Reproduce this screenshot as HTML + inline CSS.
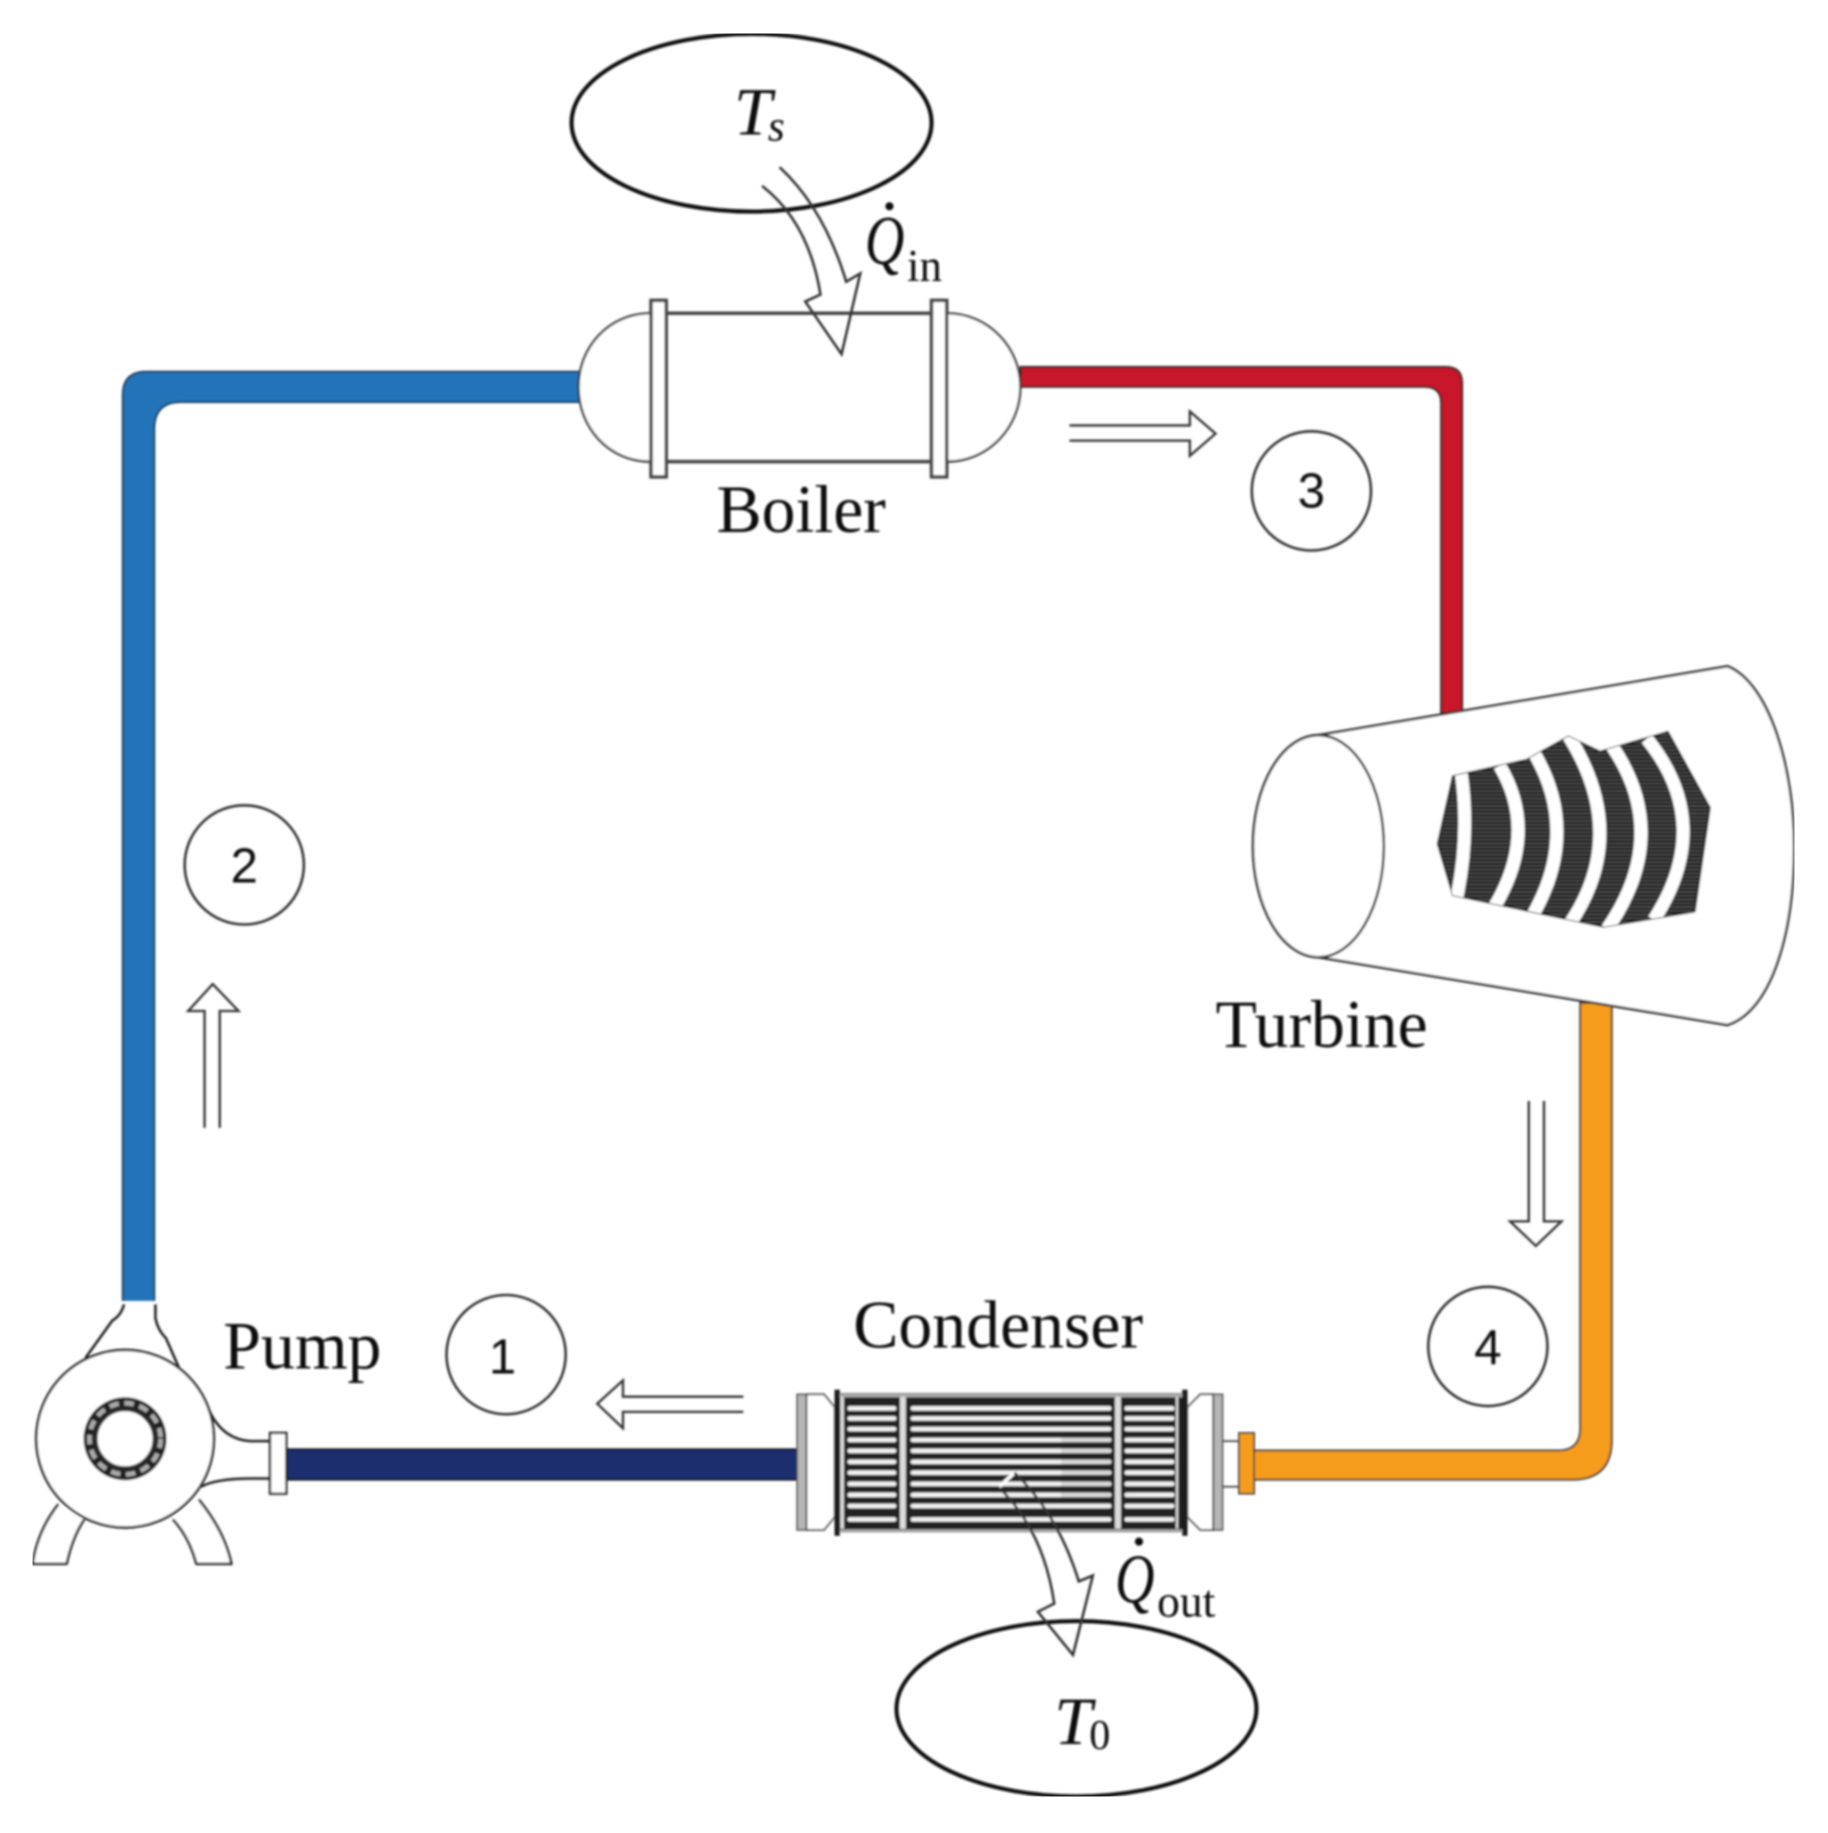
<!DOCTYPE html>
<html><head><meta charset="utf-8"><style>
html,body{margin:0;padding:0;background:#fff}
svg{display:block}
text{fill:#111}
.s{font-family:"Liberation Serif",serif}
.a{font-family:"Liberation Sans",sans-serif}
</style></head><body>
<svg width="1828" height="1833" viewBox="0 0 1564 1568.3" xmlns="http://www.w3.org/2000/svg">
<defs>
<pattern id="h" width="6" height="3.2" patternUnits="userSpaceOnUse"><rect width="6" height="3.2" fill="#161616"/><rect y="1.2" width="6" height="0.9" fill="#666"/></pattern>
<clipPath id="bc"><polygon points="1243,664 1306,650 1342,630 1369,643 1427,626 1463,691 1450,780 1372,793 1243,766 1230,722"/></clipPath>
<filter id="b" x="0" y="0" width="100%" height="100%"><feGaussianBlur stdDeviation="0.8"/></filter>
</defs>
<g filter="url(#b)">
<!-- pipes -->
<path d="M497,318 H125 Q105,318 105,338 V1113 H132 V367 Q132,344 155,344 H497 Z" fill="#2173b8"/>
<path d="M497,318 H125 Q105,318 105,338 V1113 M132,1113 V367 Q132,344 155,344 H497" fill="none" stroke="#1d3d5e" stroke-width="1.6"/>
<path d="M873,314 H1237 Q1251,314 1251,328 V610 H1233 V345 Q1233,331 1219,331 H873 Z" fill="#c8192a" stroke="#222" stroke-width="1.6"/>
<path d="M1352,858 V1222 Q1352,1241 1333,1241 H1072 V1266 H1345 Q1379,1266 1379,1232 V858 Z" fill="#f59c1a" stroke="#3a3a3a" stroke-width="1.6"/>
<rect x="245" y="1240" width="438" height="26" fill="#1f2f6e" stroke="#111" stroke-width="1.5"/>
<rect x="1060" y="1226" width="13" height="52" fill="#f59c1a" stroke="#444" stroke-width="1.5"/>
<!-- Ts -->
<ellipse cx="643" cy="105" rx="154" ry="76" fill="none" stroke="#111" stroke-width="3.5"/>
<!-- Boiler -->
<path d="M557,268 C520,268 495,298 495,331 C495,365 520,395 557,395 M810,268 C846,268 873,298 873,331 C873,365 846,395 810,395" fill="#fff" stroke="#333" stroke-width="2"/>
<path d="M570,268 H797 M570,395 H797" stroke="#444" stroke-width="3" fill="none"/>
<rect x="557" y="257" width="13" height="151" fill="#fff" stroke="#444" stroke-width="3"/>
<rect x="797" y="257" width="13" height="151" fill="#fff" stroke="#444" stroke-width="3"/>
<!-- Qin arrow -->
<path d="M652,159 Q692,190 702,252 L689,258 L720,303 L736,234 L724,241 Q705,178 667,143" fill="none" stroke="#333" stroke-width="2.2"/>
<!-- Turbine -->
<path d="M1128,629 L1478,570 C1515,585 1535,660 1535,724 C1535,800 1515,865 1478,877 L1128,819 Z" fill="#fff" stroke="#333" stroke-width="2.2"/>
<ellipse cx="1128" cy="724" rx="56" ry="95" fill="#fff" stroke="#333" stroke-width="2.2"/>
<polygon points="1243,664 1306,650 1342,630 1369,643 1427,626 1463,691 1450,780 1372,793 1243,766 1230,722" fill="url(#h)" stroke="#222" stroke-width="1.5"/>
<g clip-path="url(#bc)" fill="none" stroke="#fff" stroke-width="11">
<path d="M1250,660 Q1258,714 1246,770"/>
<path d="M1283,655 Q1318,714 1276,780"/>
<path d="M1313,645 Q1353,714 1309,787"/>
<path d="M1341,628 Q1396,714 1342,792"/>
<path d="M1379,638 Q1431,714 1375,795"/>
<path d="M1409,632 Q1468,705 1415,787"/>
</g>
<!-- Circles -->
<g fill="none" stroke="#333" stroke-width="2.2">
<circle cx="1122" cy="420" r="51"/><circle cx="209" cy="740" r="51"/><circle cx="433" cy="1159" r="51"/><circle cx="1273" cy="1152" r="51"/>
</g>
<g text-anchor="middle">
<text class="a" font-size="42" x="1122" y="434">3</text><text class="a" font-size="42" x="209" y="755">2</text><text class="a" font-size="42" x="430" y="1175">1</text><text class="a" font-size="42" x="1273" y="1167">4</text>
</g>
<!-- hollow arrows -->
<g fill="none" stroke="#333" stroke-width="2">
<path d="M915,364 H1018 V352 L1040,371 L1018,390 V377 H915"/>
<path d="M175,965 V865 H161 L182,842 L204,865 H188 V965"/>
<path d="M1308,942 V1045 H1292 L1314,1066 L1336,1045 H1321 V942"/>
<path d="M636,1195 H533 V1181 L511,1201 L533,1222 V1208 H636"/>
</g>
<!-- Pump -->
<g fill="#fff" stroke="#222" stroke-width="2.2">
<path d="M106,1116 Q104,1125 96,1130 L73,1162 M133,1116 V1128 Q135,1138 142,1145 L153,1170" fill="none"/>
<path d="M178,1205 Q190,1232 215,1233 H232 M172,1272 Q185,1265 215,1265 H232" fill="none"/>
<path d="M50,1287 Q32,1310 28,1338 H57 Q62,1315 72,1300" stroke-linejoin="round"/>
<path d="M148,1300 Q162,1315 168,1338 H198 Q192,1310 170,1283" stroke-linejoin="round"/>
<circle cx="107" cy="1231" r="76"/>
<circle cx="107" cy="1231" r="30.5" fill="none" stroke="#222" stroke-width="10"/>
<circle cx="107" cy="1231" r="30.5" fill="none" stroke="#aaa" stroke-width="4" stroke-dasharray="8 5"/>
<circle cx="107" cy="1231" r="24.5" fill="none" stroke-width="2"/>
<rect x="231" y="1226" width="14" height="52" stroke-width="2"/>
</g>
<!-- Condenser -->
<rect x="714.5" y="1192" width="301" height="119" fill="#242424"/>
<rect x="716" y="1192.5" width="298" height="3" fill="#aaa"/>
<rect x="716" y="1308.5" width="298" height="2.5" fill="#aaa"/>
<g fill="#ddd">
<rect x="770" y="1195" width="5" height="113"/><rect x="954" y="1195" width="5" height="113"/>
<rect x="719" y="1195" width="3" height="113"/><rect x="1006" y="1195" width="2" height="113"/>
</g>
<g stroke="#f2f2f2" stroke-width="3.8" stroke-linecap="round" fill="none">
<path d="M727,1205 H765 M781,1205 H949 M964,1205 H1003"/>
<path d="M727,1213.6 H765 M781,1213.6 H949 M964,1213.6 H1003"/>
<path d="M727,1222.7 H765 M781,1222.7 H949 M964,1222.7 H1003"/>
<path d="M727,1232 H765 M781,1232 H949 M964,1232 H1003"/>
<path d="M727,1241.3 H765 M781,1241.3 H949 M964,1241.3 H1003"/>
<path d="M727,1250.7 H765 M781,1250.7 H949 M964,1250.7 H1003"/>
<path d="M727,1260 H765 M781,1260 H949 M964,1260 H1003"/>
<path d="M727,1269.6 H765 M781,1269.6 H949 M964,1269.6 H1003"/>
<path d="M727,1279 H765 M781,1279 H949 M964,1279 H1003"/>
<path d="M727,1288.5 H765 M781,1288.5 H949 M964,1288.5 H1003"/>
<path d="M727,1300 H765 M781,1300 H949 M964,1300 H1003"/>
</g>
<rect x="908" y="1226" width="42" height="58" fill="#000" opacity="0.1"/>
<rect x="682" y="1193" width="8" height="116" fill="#b5b5b5" stroke="#555" stroke-width="1.4"/>
<path d="M690,1193 H705 L714,1204 V1298 L705,1309 H690 Z" fill="#fff" stroke="#444" stroke-width="1.6"/>
<rect x="1038" y="1193" width="8" height="116" fill="#b5b5b5" stroke="#555" stroke-width="1.4"/>
<path d="M1038,1193 H1027 L1016,1204 V1298 L1027,1309 H1038 Z" fill="#fff" stroke="#444" stroke-width="1.6"/>
<rect x="714" y="1189" width="4.5" height="125" fill="#1a1a1a"/><rect x="1011.5" y="1189" width="4.5" height="125" fill="#1a1a1a"/>
<path d="M1046,1233 H1060 M1046,1272 H1060" stroke="#444" stroke-width="1.5"/>
<!-- T0 -->
<ellipse cx="921" cy="1462" rx="154" ry="75" fill="none" stroke="#111" stroke-width="3.5"/>
<!-- Qout arrow -->
<path d="M855,1272 L868,1260" stroke="#fff" stroke-width="3" fill="none"/>
<path d="M855,1273 Q893,1310 902,1372 L888,1379 L918,1416 L935,1348 L923,1353 Q905,1295 868,1260" fill="none" stroke="#333" stroke-width="2.2"/>
<!-- labels -->
<g>
<text class="s" font-size="58" x="613" y="455">Boiler</text>
<text class="s" font-size="58" x="191" y="1171">Pump</text>
<text class="s" font-size="58" x="730" y="1153">Condenser</text>
<text class="s" font-size="58" x="1040" y="896">Turbine</text>
</g>
<g font-style="italic">
<text class="s" x="628" y="115" font-size="58">T</text>
<text class="s" x="657" y="120" font-size="37">s</text>
<text class="s" x="902" y="1492" font-size="58">T</text>
<text class="s" transform="translate(740,226) scale(.78,1)" font-size="60">Q</text>
<text class="s" transform="translate(954,1371) scale(.78,1)" font-size="60">Q</text>
</g>
<text class="s" x="932" y="1496.5" font-size="36">0</text>
<circle cx="761" cy="176.5" r="3.5" fill="#111"/>
<circle cx="974.5" cy="1319" r="3.5" fill="#111"/>
<text class="s" x="776" y="240.5" font-size="38.5">in</text>
<text class="s" x="990" y="1383" font-size="39">out</text>
</g>
</svg>
</body></html>
